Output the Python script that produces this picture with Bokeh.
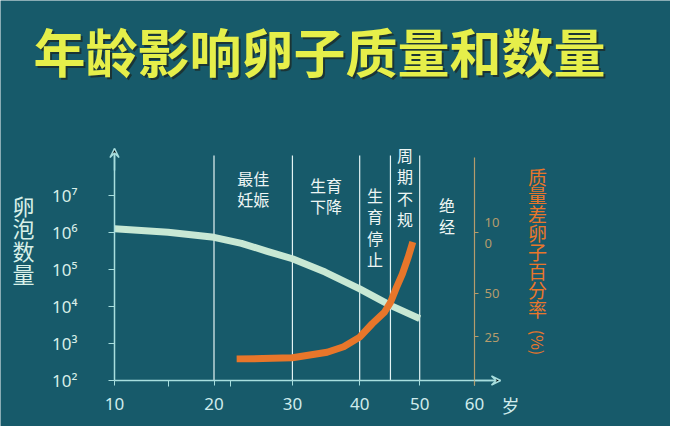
import numpy as np
from bokeh.plotting import figure
from bokeh.models import (Range1d, LinearAxis, LogAxis, LinearScale, FixedTicker,
                          CustomJSTickFormatter, Label, Arrow, VeeHead)
from bokeh.core.properties import value
from bokeh.embed import file_html
from bokeh.resources import INLINE

# texts
TITLE = "年龄影响卵子质量和数量"
LEFT_LABEL = "卵\n泡\n数\n量"
RIGHT_LABEL = "质\n量\n差\n卵\n子\n百\n分\n率"
RIGHT_UNIT = "(%)"
AGE_UNIT = "岁"

# axes
AGE_TICKS = [10, 20, 30, 40, 50, 60]
AGE_MINOR = [15, 22]
COUNT_EXP = [2, 3, 4, 5, 6, 7]
PCT_TICKS = [25, 50, 100]

# stage boundaries and names
BOUNDARY_AGES = [20, 30, 40, 45, 50]
ZONE_FROM = [20, 30, 40, 45, 50]
ZONE_TO = [30, 40, 45, 50, 60]
ZONE_LABELS = ["最佳\n妊娠", "生育\n下降", "生\n育\n停\n止", "周\n期\n不\n规", "绝\n经"]

# follicle count (left, log)
AGE_COUNT = [10, 15, 20, 23.3, 26.6, 30, 34.7, 40, 45, 50]
FOLLICLES = [1.26e6, 1.02e6, 7.4e5, 5.1e5, 3.1e5, 1.95e5, 8.5e4, 3.0e4, 1.07e4, 4.7e3]

# poor quality oocytes % (right)
AGE_POOR = [22.7, 26, 30, 35, 37.5, 40, 42, 44, 45, 46, 47, 48, 48.8]
POOR_PCT = [15.4, 15.5, 15.8, 18, 20.3, 24.7, 31.5, 38, 44, 54, 64, 77.6, 91]

BG = "#175a6a"
AXIS = "#a8dede"
TAN = "#b59c6c"
MINT = "#c8e8d4"
ORANGE = "#e8762a"
WHITE = "#eef6f4"
CJK = "Noto Sans CJK SC"

AGE_POW = 0.55  # the original age axis is compressed towards old age


def ax(a):
    return np.asarray(a, dtype=float) ** AGE_POW


W, H = 670, 426

# layout of the drawing area (pixels from top-left)
X10_PX, X60_PX = 114, 474
AXIS_Y_PX = 380           # 10^2
DECADE_PX = 37.0
PCT25_PX, SQRT_PX = 336, 20.8

x10 = float(ax(10))
x60 = float(ax(60))
kx = (X60_PX - X10_PX) / (x60 - x10)


def px_x(px):
    return x10 + (px - X10_PX) / kx


def px_e(py):
    return 2 + (AXIS_Y_PX - py) / DECADE_PX


def px_s(py):
    return 5 + (PCT25_PX - py) / SQRT_PX


p = figure(width=W, height=H, x_range=Range1d(px_x(0), px_x(W)),
           y_range=Range1d(10 ** px_e(H), 10 ** px_e(0)), y_axis_type="log",
           x_axis_location=None, y_axis_location=None,
           output_backend="svg", toolbar_location=None,
           min_border=0, background_fill_color=BG, border_fill_color=BG,
           outline_line_color=None)
p.grid.visible = False
p.extra_y_ranges = {"pct": Range1d(px_s(H), px_s(0))}
p.extra_y_scales = {"pct": LinearScale()}

x_arrow = px_x(500)
y_arrow = 10 ** px_e(148)

# bottom axis (age)
xa = LinearAxis(fixed_location=1e2, bounds=(x10, x_arrow),
                ticker=FixedTicker(ticks=list(ax(AGE_TICKS)), minor_ticks=list(ax(AGE_MINOR))),
                formatter=CustomJSTickFormatter(args=dict(pw=AGE_POW),
                                                code="return String(Math.round(Math.pow(tick, 1/pw)));"))
xa.axis_line_color = AXIS
xa.axis_line_width = 1.5
xa.major_tick_line_color = AXIS
xa.minor_tick_line_color = AXIS
xa.major_tick_out = 5
xa.major_tick_in = 0
xa.minor_tick_out = 6
xa.minor_tick_in = 0
xa.major_label_text_color = "#d0ecec"
xa.major_label_text_font = "Noto Sans"
xa.major_label_text_font_size = "17px"
xa.major_label_standoff = 11
p.add_layout(xa, "below")

# left axis (follicles)
sup = "⁰¹²³⁴⁵⁶⁷⁸⁹"
ya = LogAxis(fixed_location=x10, bounds=(1e2, y_arrow),
             ticker=FixedTicker(ticks=[10 ** e for e in COUNT_EXP]))
ya.major_label_overrides = {10 ** e: "10" + sup[e] for e in COUNT_EXP}
ya.axis_line_color = AXIS
ya.axis_line_width = 1.5
ya.major_tick_line_color = AXIS
ya.major_tick_out = 6
ya.major_tick_in = 0
ya.minor_tick_out = 0
ya.minor_tick_in = 0
ya.major_label_text_color = "#d8eee8"
ya.major_label_text_font = "Noto Sans"
ya.major_label_text_font_size = "17px"
ya.major_label_standoff = 31
p.add_layout(ya, "left")

# right axis (poor quality %), drawn at age 60
ra = LinearAxis(y_range_name="pct", fixed_location=x60,
                ticker=FixedTicker(ticks=list(np.sqrt(PCT_TICKS))),
                formatter=CustomJSTickFormatter(
                    code="const v = Math.round(tick*tick); return v == 100 ? '10\\n0' : String(v);"),
                bounds=(px_s(385), px_s(157)))
ra.axis_line_color = TAN
ra.axis_line_width = 1.2
ra.major_tick_line_color = TAN
ra.major_tick_out = 4
ra.major_tick_in = 0
ra.minor_tick_out = 0
ra.minor_tick_in = 0
ra.major_label_text_color = TAN
ra.major_label_text_font = "Noto Sans"
ra.major_label_text_font_size = "13px"
ra.major_label_standoff = 6
p.add_layout(ra, "right")

# arrow heads on the axes
p.add_layout(Arrow(end=VeeHead(size=9, line_color=AXIS, line_width=1.5),
                   x_start=x10, y_start=10 ** px_e(170), x_end=x10, y_end=y_arrow,
                   line_color=AXIS, line_width=1.5))
p.add_layout(Arrow(end=VeeHead(size=9, line_color=AXIS, line_width=1.5),
                   x_start=x60, y_start=1e2, x_end=x_arrow, y_end=1e2,
                   line_color=AXIS, line_width=1.5))

# stage boundaries
bx = ax(BOUNDARY_AGES)
line_top = 10 ** px_e(155)
p.segment(x0=bx, y0=[1e2] * len(bx), x1=bx, y1=[line_top] * len(bx),
          line_color="#e4f4f4", line_width=1.2)

# stage names
zone_x = (ax(ZONE_FROM) + ax(ZONE_TO)) / 2
zone_top = [10 ** px_e(v) for v in (165, 172, 182, 142, 192)]
p.text(x=zone_x, y=zone_top, text=ZONE_LABELS, text_align="center", text_baseline="top",
       text_font=value(CJK), text_font_size="16px", text_line_height=0.9, text_color=WHITE)

# curves
p.line(ax(AGE_COUNT), FOLLICLES, line_width=7, line_color=MINT, line_join="round")
p.line(ax(AGE_POOR), np.sqrt(POOR_PCT), y_range_name="pct", line_width=7,
       line_color=ORANGE, line_join="round")

# title with shadow
p.add_layout(Label(x=35, y=H - 52, x_units="screen", y_units="screen", text=TITLE,
                   text_font=CJK, text_font_style="bold", text_font_size="52px",
                   text_color="#1c2e2c", text_alpha=0.85, text_baseline="middle"))
p.add_layout(Label(x=33, y=H - 50, x_units="screen", y_units="screen", text=TITLE,
                   text_font=CJK, text_font_style="bold", text_font_size="52px",
                   text_color="#e6ef4a", text_baseline="middle"))

# stacked axis titles
p.add_layout(Label(x=23, y=H - 188, x_units="screen", y_units="screen", text=LEFT_LABEL,
                   text_font=CJK, text_font_size="22px", text_line_height=0.71,
                   text_color="#d8f0e8", text_align="center", text_baseline="top"))
p.add_layout(Label(x=537, y=H - 162, x_units="screen", y_units="screen", text=RIGHT_LABEL,
                   text_font=CJK, text_font_size="19px", text_line_height=0.70,
                   text_color=ORANGE, text_align="center", text_baseline="top"))
p.add_layout(Label(x=537, y=H - 342, x_units="screen", y_units="screen", text=RIGHT_UNIT,
                   text_font=CJK, text_font_size="16px", angle=-np.pi / 2,
                   text_color=ORANGE, text_align="center", text_baseline="middle"))
p.add_layout(Label(x=510, y=H - 404, x_units="screen", y_units="screen", text=AGE_UNIT,
                   text_font=CJK, text_font_size="18px",
                   text_color="#d0ecec", text_align="center", text_baseline="middle"))

open("out.html", "w").write(file_html(p, INLINE))
